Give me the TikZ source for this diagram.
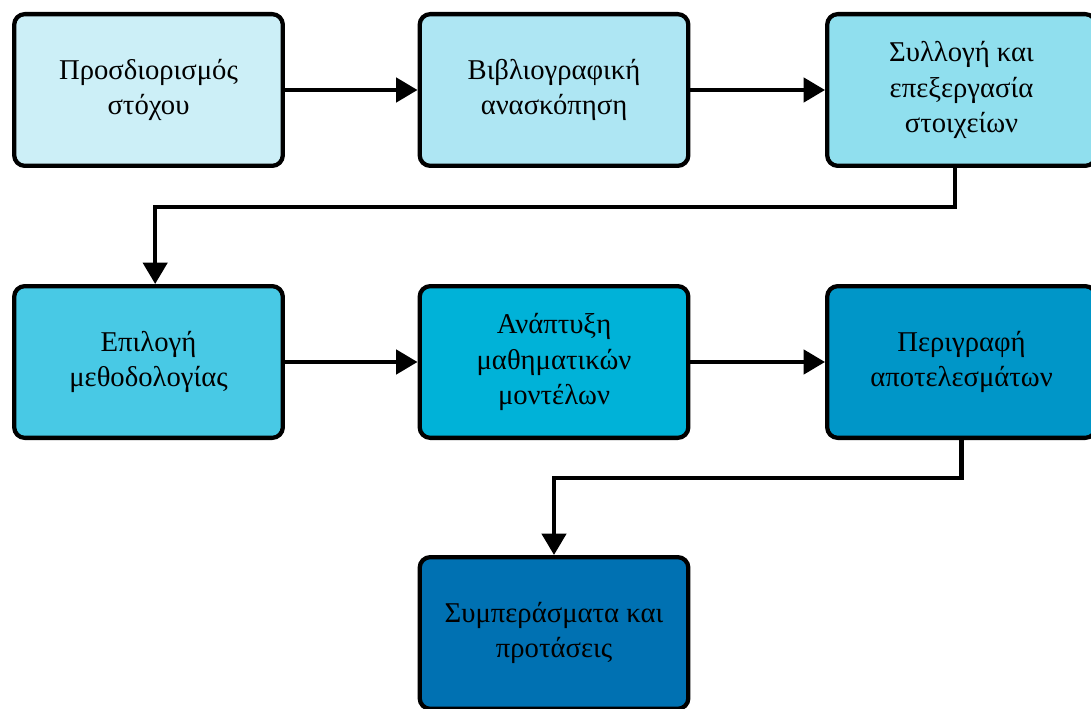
\documentclass[tikz,border=0pt]{standalone}
\usepackage{fontspec}
\setmainfont{Liberation Serif}
\usetikzlibrary{arrows.meta}

\definecolor{stepA}{HTML}{CCEFF7}
\definecolor{stepB}{HTML}{AEE6F3}
\definecolor{stepC}{HTML}{90DFEE}
\definecolor{stepD}{HTML}{48C9E5}
\definecolor{stepE}{HTML}{00B2D8}
\definecolor{stepF}{HTML}{0096C8}
\definecolor{stepG}{HTML}{0071B2}

\tikzset{
  stage/.style={draw=black, line width=3.2pt, rounded corners=8pt,
    minimum width=201.5pt, minimum height=113.8pt, align=center,
    font=\fontsize{21.5}{26.5}\selectfont},
  link/.style={draw=black, line width=3.2pt, -{Triangle[length=16pt,width=18pt]}}
}

\begin{document}
\begin{tikzpicture}[x=0.75pt, y=-0.75pt]
	\useasboundingbox (0,0) rectangle (1091,709);
	% first row
	\node[stage, fill=stepA] (goal) at (148.5,90) {Προσδιορισμός\\στόχου};
	\node[stage, fill=stepB] (review) at (554,90) {Βιβλιογραφική\\ανασκόπηση};
	\node[stage, fill=stepC] (data) at (961.5,90) {Συλλογή και\\επεξεργασία\\στοιχείων};
	% second row
	\node[stage, fill=stepD] (method) at (148.5,362) {Επιλογή\\μεθοδολογίας};
	\node[stage, fill=stepE] (models) at (554,362) {Ανάπτυξη\\μαθηματικών\\μοντέλων};
	\node[stage, fill=stepF] (results) at (961.5,362) {Περιγραφή\\αποτελεσμάτων};
	% last row
	\node[stage, fill=stepG] (concl) at (554,633) {Συμπεράσματα και\\προτάσεις};

	\draw[link] (goal) -- (review);
	\draw[link] (review) -- (data);
	\draw[link] ([xshift=-5pt]data.south) -- ++(0,39) -| ([xshift=5pt]method.north);
	\draw[link] (method) -- (models);
	\draw[link] (models) -- (results);
	\draw[link] (results.south) -- ++(0,38) -| (concl.north);
\end{tikzpicture}
\end{document}
